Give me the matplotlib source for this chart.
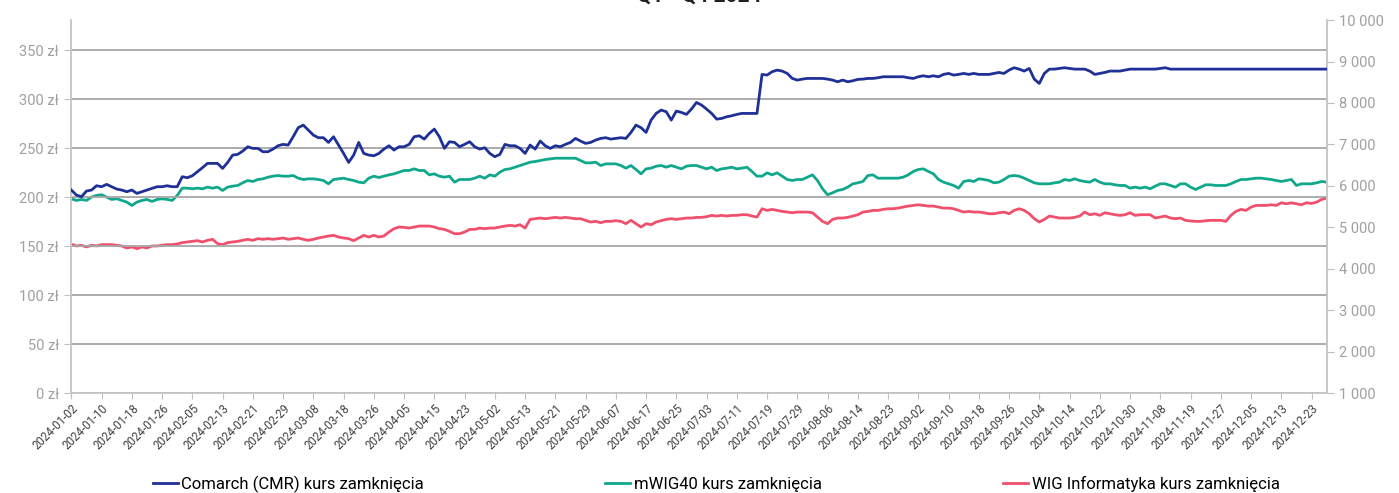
import numpy as np
import pandas as pd
import matplotlib
matplotlib.use("Agg")
import matplotlib.pyplot as plt
from matplotlib.ticker import FuncFormatter

plt.rcParams['font.family'] = ['Roboto', 'DejaVu Sans']

# trading days on GPW in 2024
holidays = ['2024-03-29', '2024-04-01', '2024-05-01', '2024-05-03', '2024-05-30',
            '2024-08-15', '2024-11-01', '2024-11-11', '2024-12-24', '2024-12-25', '2024-12-26']
days = pd.bdate_range('2024-01-02', '2024-12-31')
days = days[~days.isin(pd.to_datetime(holidays))]
dates = [d.strftime('%Y-%m-%d') for d in days]

# Comarch close, zl (left axis)
comarch = [
    207.5, 202.4, 200.7, 206.5, 207.5, 211.9, 210.9, 213.3, 210.9, 208.5,
    207.5, 205.8, 207.5, 204.1, 205.8, 207.5, 209.2, 210.9, 210.9, 211.9,
    210.9, 210.9, 221.1, 220.1, 222.1, 226.2, 230.3, 234.7, 234.7, 234.7,
    229.6, 235.7, 243.2, 243.9, 247.3, 251.7, 250.0, 250.0, 246.6, 246.6,
    249.3, 252.7, 254.1, 253.4, 261.9, 271.1, 273.8, 268.7, 263.6, 260.9,
    260.9, 256.1, 261.9, 253.4, 244.9, 235.7, 243.2, 256.1, 244.9, 243.2,
    242.5, 244.9, 249.3, 252.7, 248.3, 251.7, 251.7, 254.1, 261.9, 262.9,
    259.5, 265.3, 269.7, 261.9, 250.0, 256.8, 256.1, 251.7, 254.1, 256.8,
    251.7, 249.3, 250.7, 244.9, 241.5, 243.9, 254.1, 252.7, 252.7, 250.0,
    244.9, 253.4, 249.3, 257.5, 252.7, 250.0, 252.7, 251.7, 254.1, 256.1,
    260.2, 257.5, 255.1, 256.1, 258.5, 260.2, 260.9, 259.5, 260.2, 260.9,
    260.2, 266.3, 273.8, 271.1, 266.3, 278.9, 285.7, 289.1, 287.4, 278.9,
    288.1, 286.7, 284.7, 290.1, 296.9, 294.2, 290.1, 285.7, 279.9, 280.6,
    282.3, 283.3, 284.7, 285.7, 285.7, 285.7, 285.7, 325.5, 324.8, 328.2,
    329.9, 328.9, 326.5, 321.4, 319.7, 320.7, 321.4, 321.4, 321.4, 321.4,
    320.7, 319.7, 318.0, 319.7, 318.0, 319.0, 320.4, 320.7, 321.4, 321.4,
    322.1, 323.1, 323.1, 323.1, 323.1, 323.1, 322.1, 321.4, 323.1, 324.1,
    323.1, 324.1, 323.1, 325.5, 326.5, 324.8, 325.5, 326.5, 325.5, 326.5,
    325.5, 325.5, 325.5, 326.5, 327.5, 326.5, 329.9, 332.3, 330.9, 328.9,
    331.6, 320.7, 316.3, 326.5, 330.9, 330.9, 331.6, 332.3, 331.6, 330.9,
    330.9, 330.9, 328.9, 325.5, 326.5, 327.5, 328.9, 328.9, 328.9, 329.9,
    330.9, 330.9, 330.9, 330.9, 330.9, 330.9, 331.6, 332.3, 330.9, 330.9,
    330.9, 330.9, 330.9, 330.9, 330.9, 330.9, 330.9, 330.9, 330.9, 330.9,
    330.9, 330.9, 330.9, 330.9, 330.9, 330.9, 330.9, 330.9, 330.9, 330.9,
    330.9, 330.9, 330.9, 330.9, 330.9, 330.9, 330.9, 330.9, 330.9, 330.9,
]

# mWIG40 close (right axis)
mwig40 = [
    5692, 5651, 5675, 5651, 5732, 5772, 5788, 5732, 5675, 5692,
    5651, 5611, 5531, 5611, 5651, 5675, 5627, 5675, 5692, 5675,
    5651, 5772, 5948, 5948, 5932, 5948, 5932, 5972, 5948, 5972,
    5892, 5972, 5996, 6012, 6076, 6132, 6108, 6156, 6172, 6212,
    6236, 6252, 6236, 6236, 6252, 6188, 6156, 6172, 6172, 6156,
    6132, 6052, 6156, 6172, 6188, 6156, 6132, 6092, 6076, 6188,
    6236, 6204, 6236, 6268, 6292, 6332, 6373, 6373, 6413, 6373,
    6373, 6268, 6292, 6236, 6212, 6236, 6092, 6156, 6156, 6156,
    6188, 6236, 6188, 6268, 6236, 6332, 6397, 6413, 6453, 6493,
    6533, 6573, 6589, 6613, 6637, 6653, 6669, 6669, 6669, 6669,
    6669, 6613, 6557, 6557, 6573, 6493, 6533, 6533, 6533, 6493,
    6429, 6493, 6397, 6292, 6413, 6429, 6477, 6493, 6453, 6493,
    6453, 6413, 6477, 6493, 6493, 6453, 6413, 6453, 6373, 6413,
    6429, 6453, 6413, 6429, 6453, 6349, 6236, 6236, 6316, 6268,
    6316, 6236, 6156, 6132, 6156, 6156, 6212, 6268, 6132, 5932,
    5788, 5836, 5892, 5916, 5972, 6052, 6076, 6108, 6252, 6268,
    6188, 6188, 6188, 6188, 6188, 6212, 6268, 6349, 6397, 6413,
    6349, 6292, 6156, 6092, 6052, 6012, 5948, 6108, 6132, 6108,
    6172, 6156, 6132, 6076, 6092, 6156, 6236, 6252, 6236, 6188,
    6132, 6076, 6052, 6052, 6052, 6076, 6092, 6156, 6132, 6172,
    6132, 6108, 6092, 6156, 6092, 6052, 6052, 6028, 6012, 6012,
    5948, 5972, 5948, 5972, 5932, 5996, 6052, 6052, 6012, 5972,
    6052, 6052, 5972, 5916, 5972, 6028, 6028, 6012, 6012, 6012,
    6052, 6108, 6156, 6156, 6172, 6188, 6188, 6172, 6156, 6132,
    6108, 6132, 6156, 6012, 6052, 6052, 6052, 6076, 6108, 6092,
]

# WIG Informatyka close (right axis)
wig_inf = [
    4594, 4554, 4570, 4530, 4570, 4554, 4586, 4586, 4586, 4570,
    4554, 4506, 4530, 4489, 4530, 4506, 4554, 4554, 4570, 4586,
    4586, 4602, 4634, 4650, 4666, 4682, 4650, 4690, 4714, 4610,
    4586, 4634, 4650, 4666, 4690, 4714, 4690, 4730, 4714, 4730,
    4714, 4730, 4746, 4714, 4730, 4746, 4714, 4690, 4714, 4746,
    4770, 4794, 4810, 4770, 4746, 4730, 4682, 4746, 4810, 4770,
    4810, 4770, 4794, 4890, 4970, 5010, 5002, 4986, 5010, 5034,
    5034, 5034, 5010, 4970, 4954, 4906, 4850, 4850, 4890, 4954,
    4954, 4986, 4970, 4986, 4986, 5010, 5034, 5050, 5034, 5066,
    4986, 5195, 5211, 5227, 5211, 5227, 5243, 5227, 5243, 5227,
    5211, 5211, 5171, 5131, 5147, 5115, 5147, 5147, 5163, 5147,
    5091, 5171, 5091, 5010, 5091, 5066, 5131, 5163, 5195, 5211,
    5195, 5211, 5227, 5227, 5243, 5243, 5259, 5291, 5275, 5291,
    5275, 5291, 5291, 5307, 5307, 5275, 5251, 5451, 5411, 5435,
    5411, 5387, 5371, 5355, 5371, 5371, 5371, 5355, 5251, 5147,
    5091, 5195, 5227, 5227, 5243, 5275, 5307, 5371, 5387, 5411,
    5411, 5435, 5451, 5451, 5467, 5491, 5515, 5531, 5547, 5531,
    5515, 5515, 5491, 5467, 5467, 5451, 5411, 5371, 5387, 5371,
    5371, 5355, 5331, 5331, 5355, 5371, 5331, 5411, 5451, 5411,
    5331, 5211, 5131, 5195, 5275, 5251, 5227, 5227, 5227, 5243,
    5275, 5371, 5307, 5331, 5291, 5355, 5331, 5307, 5291, 5307,
    5355, 5291, 5307, 5307, 5307, 5227, 5251, 5275, 5227, 5211,
    5227, 5171, 5155, 5147, 5147, 5163, 5171, 5171, 5171, 5147,
    5291, 5387, 5435, 5411, 5491, 5531, 5531, 5531, 5547, 5531,
    5595, 5571, 5595, 5571, 5547, 5595, 5579, 5611, 5675, 5708,
]

labels = ['Comarch (CMR) kurs zamknięcia', 'mWIG40 kurs zamknięcia', 'WIG Informatyka kurs zamknięcia']
colors = ['#1f3096', '#10a88c', '#f0506c']

x = np.arange(len(dates))

fig = plt.figure(figsize=(13.99, 4.93), dpi=100)
ax = fig.add_axes([0.051, 0.202, 0.8973, 0.7574])
ax2 = ax.twinx()

l1, = ax.plot(x, comarch, color=colors[0], lw=2.0, zorder=3)
l2, = ax2.plot(x, mwig40, color=colors[1], lw=2.0)
l3, = ax2.plot(x, wig_inf, color=colors[2], lw=2.0)

ax.set_zorder(ax2.get_zorder() + 1)
ax.patch.set_visible(False)

ax.set_xlim(0, len(dates) - 1)
ax.set_ylim(0, 381)
ax2.set_ylim(1000, 10000)

ax.set_yticks(np.arange(0, 351, 50))
ax.yaxis.set_major_formatter(FuncFormatter(lambda v, p: '%d zł' % v))
ax2.set_yticks(np.arange(1000, 10001, 1000))
ax2.yaxis.set_major_formatter(FuncFormatter(lambda v, p: '{:,}'.format(int(v)).replace(',', ' ')))

ax.grid(axis='y', color='#a6a6a6', lw=1.3)
ax.set_axisbelow(True)

ax.set_xticks(x[::6])
ax.set_xticklabels(dates[::6], rotation=45, ha='right', rotation_mode='anchor',
                   fontsize=8.3, color='#404040')
ax.tick_params(axis='x', length=4, color='#bfbfbf', pad=2)
ax.tick_params(axis='y', labelsize=10.5, labelcolor='#a0a0a0', length=5, color='#bfbfbf', pad=4)
ax2.tick_params(axis='y', labelsize=10.5, labelcolor='#a0a0a0', length=5, color='#bfbfbf', pad=4)

for a in (ax, ax2):
    for s in ['top']:
        a.spines[s].set_visible(False)
    for s in ['left', 'right', 'bottom']:
        a.spines[s].set_color('#c8c8c8')
        a.spines[s].set_linewidth(1.2)

fig.text(0.5, 1.007, 'Q1 - Q4 2024', ha='center', va='center', fontsize=15,
         fontweight='bold', color='#222222')

fig.legend([l1, l2, l3], labels, loc='lower center', bbox_to_anchor=(0.512, -0.03),
           ncol=3, frameon=False, fontsize=12, handlelength=1.5, handletextpad=0.2,
           columnspacing=10.9)

fig.savefig('out.png', dpi=100)
